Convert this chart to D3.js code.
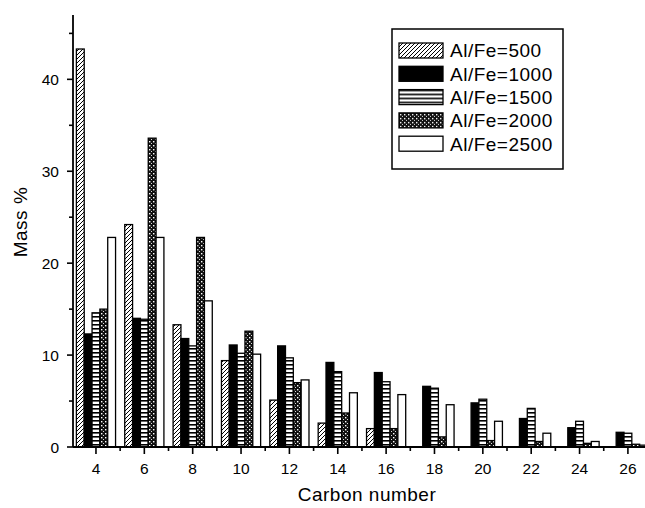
<!DOCTYPE html>
<html>
<head>
<meta charset="utf-8">
<script src="https://cdn.jsdelivr.net/npm/d3@7"></script>
<style>
  body { margin: 0; background: #fff; }
  svg { font-family: "Liberation Sans", Arial, sans-serif; }
</style>
</head>
<body>
<svg width="645" height="508"></svg>
<script>
var carbons = [4, 6, 8, 10, 12, 14, 16, 18, 20, 22, 24, 26];
var seriesNames = ["Al/Fe=500", "Al/Fe=1000", "Al/Fe=1500", "Al/Fe=2000", "Al/Fe=2500"];
var fe500  = [43.3, 24.2, 13.3, 9.4, 5.1, 2.6, 2.0, 0, 0, 0, 0, 0];
var fe1000 = [12.3, 14.0, 11.8, 11.1, 11.0, 9.2, 8.1, 6.6, 4.8, 3.1, 2.1, 1.6];
var fe1500 = [14.6, 13.9, 11.0, 10.2, 9.7, 8.2, 7.1, 6.4, 5.2, 4.2, 2.8, 1.5];
var fe2000 = [15.0, 33.6, 22.8, 12.6, 7.0, 3.7, 2.0, 1.1, 0.7, 0.6, 0.4, 0.3];
var fe2500 = [22.8, 22.8, 15.9, 10.1, 7.3, 5.9, 5.7, 4.6, 2.8, 1.5, 0.6, 0.2];
var yTicks = [0, 10, 20, 30, 40];
var xTicks = [4, 6, 8, 10, 12, 14, 16, 18, 20, 22, 24, 26];

var allSeries = [fe500, fe1000, fe1500, fe2000, fe2500];

var svg = d3.select("svg");

// patterns
var defs = svg.append("defs");

var p1 = defs.append("pattern").attr("id", "pat0")
  .attr("patternUnits", "userSpaceOnUse").attr("width", 4).attr("height", 4);
p1.append("rect").attr("width", 4).attr("height", 4).attr("fill", "#fff");
p1.append("path").attr("d", "M-1,1 l2,-2 M0,4 l4,-4 M3,5 l2,-2")
  .attr("stroke", "#000").attr("stroke-width", 1);

var p3 = defs.append("pattern").attr("id", "pat2")
  .attr("patternUnits", "userSpaceOnUse").attr("width", 4).attr("height", 4);
p3.append("rect").attr("width", 4).attr("height", 4).attr("fill", "#fff");
p3.append("rect").attr("y", 0).attr("width", 4).attr("height", 1.6).attr("fill", "#000");

var p4 = defs.append("pattern").attr("id", "pat3")
  .attr("patternUnits", "userSpaceOnUse").attr("width", 4).attr("height", 4);
p4.append("rect").attr("width", 4).attr("height", 4).attr("fill", "#111");
p4.append("rect").attr("x", 1).attr("y", 1).attr("width", 1.4).attr("height", 1.4).attr("fill", "#fff");
p4.append("rect").attr("x", 3).attr("y", 3).attr("width", 1).attr("height", 1).attr("fill", "#ddd");

var fills = ["url(#pat0)", "#000", "url(#pat2)", "url(#pat3)", "#fff"];

var x = d3.scaleLinear().domain([3.05, 26.5]).range([73, 640]);
var y = d3.scaleLinear().domain([0, 47]).range([447, 15]);

var unit = x(5) - x(4);
var xs = d3.scaleBand().domain(d3.range(5))
  .range([-unit * 0.81, unit * 0.81]).padding(0);

// bars
var rows = [];
allSeries.forEach(function(vals, si) {
  vals.forEach(function(v, ci) {
    rows.push({s: si, c: carbons[ci], v: v});
  });
});

svg.append("g")
  .selectAll("rect")
  .data(rows.filter(function(d) { return d.v > 0; }))
  .enter()
  .append("rect")
  .attr("x", function(d) { return x(d.c) + xs(d.s); })
  .attr("width", xs.bandwidth())
  .attr("y", function(d) { return y(d.v); })
  .attr("height", function(d) { return y(0) - y(d.v); })
  .attr("fill", function(d) { return fills[d.s]; })
  .attr("stroke", "#000")
  .attr("stroke-width", 1.3);

// y axis
var yMinor = d3.range(0, 46, 5);
var gy = svg.append("g").attr("transform", "translate(73,0)");
gy.append("line").attr("y1", y(0)).attr("y2", 15).attr("stroke", "#000").attr("stroke-width", 1.8);
gy.selectAll("line.minor").data(yMinor).enter().append("line").classed("minor", true)
  .attr("x1", 0).attr("x2", function(d) { return d % 10 === 0 ? -6 : -4; })
  .attr("y1", function(d) { return y(d); }).attr("y2", function(d) { return y(d); })
  .attr("stroke", "#000").attr("stroke-width", 1.6);
gy.selectAll("text").data(yTicks).enter().append("text")
  .attr("x", -14).attr("y", function(d) { return y(d); })
  .attr("dy", "0.36em").attr("text-anchor", "end")
  .attr("font-size", 15.5).text(function(d) { return d; });

// x axis
var xMinor = d3.range(3, 27, 1).filter(function(d) { return x(d) >= 73; });
var gx = svg.append("g").attr("transform", "translate(0," + y(0) + ")");
gx.append("line").attr("x1", 73).attr("x2", 645).attr("stroke", "#000").attr("stroke-width", 1.8);
gx.selectAll("line.tick").data(xMinor).enter().append("line").classed("tick", true)
  .attr("x1", function(d) { return x(d); }).attr("x2", function(d) { return x(d); })
  .attr("y1", 0).attr("y2", function(d) { return d % 2 === 0 ? 7 : 4; })
  .attr("stroke", "#000").attr("stroke-width", 1.6);
gx.selectAll("text").data(xTicks).enter().append("text")
  .attr("x", function(d) { return x(d); }).attr("y", 27)
  .attr("text-anchor", "middle").attr("font-size", 15.5)
  .text(function(d) { return d; });

// titles
svg.append("text").attr("x", 367).attr("y", 501)
  .attr("text-anchor", "middle").attr("font-size", 19)
  .attr("letter-spacing", 0.5).text("Carbon number");
svg.append("text").attr("transform", "translate(27,222) rotate(-90)")
  .attr("text-anchor", "middle").attr("font-size", 19)
  .attr("letter-spacing", 0.5).text("Mass %");

// legend
var lg = svg.append("g").attr("transform", "translate(392,29)");
lg.append("rect").attr("width", 171).attr("height", 140)
  .attr("fill", "#fff").attr("stroke", "#000").attr("stroke-width", 1.5);
var items = lg.selectAll("g.item").data(seriesNames).enter().append("g").classed("item", true)
  .attr("transform", function(d, i) { return "translate(7," + (14 + i * 23.3) + ")"; });
items.append("rect").attr("width", 44).attr("height", 15)
  .attr("fill", function(d, i) { return fills[i]; })
  .attr("stroke", "#000").attr("stroke-width", 1.3);
items.append("text").attr("x", 51).attr("y", 7.5).attr("dy", "0.36em")
  .attr("font-size", 19).attr("letter-spacing", 0.5).text(function(d) { return d; });
</script>
</body>
</html>
